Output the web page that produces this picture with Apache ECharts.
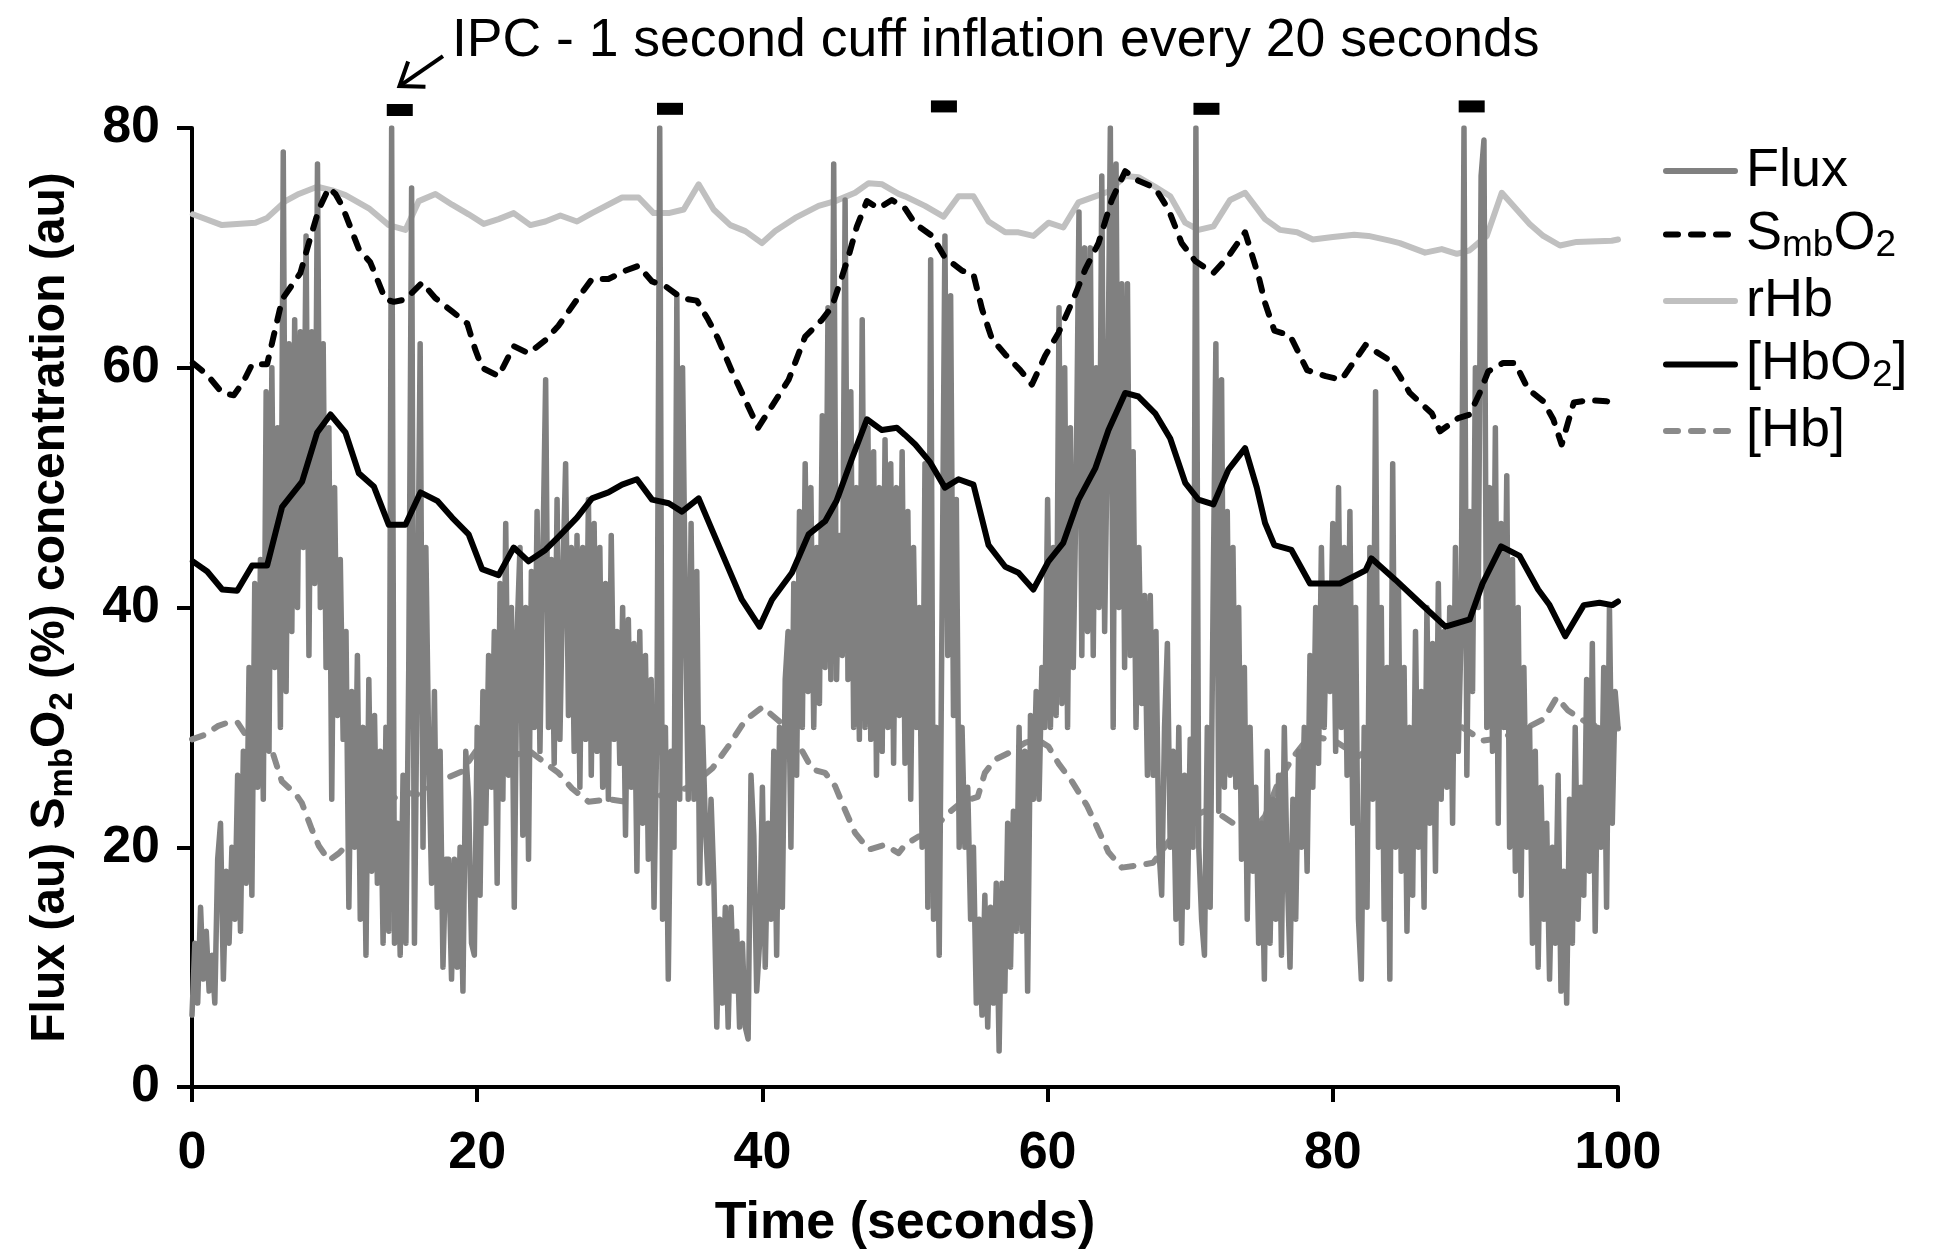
<!DOCTYPE html>
<html><head><meta charset="utf-8">
<script src="https://cdn.jsdelivr.net/npm/echarts@6/dist/echarts.min.js"></script>
<style>html,body{margin:0;padding:0;background:#fff}#c{width:1937px;height:1251px}</style>
</head><body><div id="c"></div>
<script>
// ---------- data ----------
const fluxStep = 0.2; // seconds between flux samples
const fluxValues = [
 6,12,7,15,9, 13,8,11,7,19, 22,9,18,12,20, 14,26,13,28,17, 35,16,42,25,44,
 24,58,28,60,35, 55,30,78,33,62, 38,64,40,63,45, 71,36,63,42,77, 40,62,35,55,24,
 50,31,44,29,38, 15,33,20,36,14, 30,11,34,18,31, 17,28,12,30,13, 80,12,22,11,26,
 12,35,75,12,36, 62,20,45,28,17, 33,15,28,10,19, 19,9,19,10,20, 8,28,24,12,11,
 30,16,33,22,36, 25,38,17,42,24, 47,26,40,15,38, 45,21,40,19,43, 30,48,28,44,59,
 30,44,27,49,29, 42,52,31,45,28, 46,25,45,29,49, 26,47,28,45,25, 42,24,46,29,38,
 27,40,21,39,25, 37,18,38,22,36, 19,34,15,30,80, 14,30,9,28,20, 66,24,60,40,24,
 47,24,43,17,30, 22,17,24,17,5, 14,7,15,5,15, 8,13,5,12,5, 4,26,21,8,12,
 25,10,22,14,28, 11,30,15,34,38, 20,42,26,48,30, 52,33,50,30,45, 32,56,35,65,34,
 77,34,46,36,74, 34,58,30,50,29, 64,30,55,29,53, 26,50,28,54,30, 52,27,50,31,53,
 27,48,24,45,30, 40,20,52,15,69, 14,30,11,40,71, 36,66,31,49,20, 30,20,25,14,20,
 7,14,6,16,5, 15,7,17,3,17, 8,22,10,23,13, 30,13,28,8,31, 24,33,24,35,30,
 49,30,45,31,65, 32,60,30,55,35, 50,73,36,70,38, 70,36,60,40,76, 38,55,80,30,77,
 40,67,35,67,36, 53,30,45,32,41, 26,41,26,38,20, 16,30,37,20,28, 14,30,12,26,15,
 29,20,80,20,14, 11,30,15,40,62, 23,59,25,48,26, 45,25,40,19,35, 14,30,18,25,12,
 22,9,28,12,24, 14,26,11,30,18, 10,24,14,28,20, 30,18,36,25,40, 27,45,30,42,33,
 47,28,50,30,45, 26,48,22,40,14, 9,30,15,45,24, 58,20,40,14,35, 9,52,20,42,18,
 35,13,30,16,38, 20,33,15,40,22, 37,18,42,24,38, 25,40,22,45,28, 38,80,26,48,33,
 60,40,76,79,30, 50,28,55,22,47, 30,51,20,44,18, 40,16,35,20,30, 12,28,10,25,14,
 22,9,20,12,26, 8,18,7,24,12, 30,14,25,16,34, 18,37,13,30,20, 35,15,40,22,33,
 30
];
const smbo2Points = [
 [0.06,60.4],[1.07,59.4],[2.12,57.9],[2.93,57.7],[3.63,58.9],[4.22,60.3],[5.27,60.3],[5.62,62.1],
 [6.32,65.7],[7.6,67.9],[8.19,70.4],[8.89,73.2],[9.59,75.0],[10.06,74.5],[10.53,73.5],[11.7,69.9],
 [12.5,68.8],[13.56,65.7],[14.15,65.5],[14.97,65.7],[16.14,67.1],[17.07,65.8],[18.24,64.7],[19.3,63.7],
 [19.87,61.5],[20.34,60.0],[21.5,59.3],[22.56,61.8],[23.6,61.2],[24.78,62.3],[25.7,63.5],[27.0,65.7],
 [28.05,67.4],[29.2,67.4],[30.4,68.1],[31.3,68.5],[32.26,67.2],[33.2,66.8],[34.36,65.8],[35.4,65.6],
 [36.2,64.0],[36.9,62.4],[37.9,59.6],[38.8,57.3],[39.7,55.0],[40.67,56.8],[41.84,59.0],[43.0,62.6],
 [44.18,64.0],[44.88,65.1],[45.58,67.6],[46.04,69.3],[46.63,71.8],[47.33,73.9],[48.15,73.3],[49.08,74.0],
 [50.0,73.3],[50.72,72.0],[51.9,71.0],[52.8,69.2],[54.0,68.1],[54.8,67.8],[55.4,64.9],[56.1,62.4],
 [57.03,61.1],[58.08,59.8],[58.9,58.6],[59.83,61.0],[60.76,62.9],[61.8,65.7],[62.64,68.2],[63.57,70.4],
 [64.5,74.0],[65.44,76.4],[66.37,75.6],[67.54,75.0],[68.48,73.2],[69.4,70.4],[70.35,68.9],[71.63,67.9],
 [72.68,69.3],[73.85,71.3],[74.8,67.6],[75.25,65.4],[75.9,63.1],[77.0,62.7],[78.2,59.8],[79.5,59.3],
 [80.6,59.0],[82.3,61.9],[84.0,60.6],[84.7,59.3],[85.4,57.9],[86.94,56.2],[87.52,54.7],[88.8,55.8],
 [89.6,56.1],[90.3,57.9],[90.9,59.7],[91.95,60.4],[92.78,60.4],[93.7,58.2],[94.76,57.2],[95.46,55.7],
 [96.05,53.6],[96.9,57.1],[98.0,57.3],[99.2,57.2],[100,57.0]
];
const rhbPoints = [
 [0.06,72.8],[2.1,71.9],[4.45,72.1],[5.27,72.5],[6.55,73.9],[7.49,74.5],[8.78,75.1],[9.83,74.8],
 [10.76,74.4],[12.4,73.3],[13.8,71.9],[14.97,71.5],[15.9,73.9],[17.07,74.5],[18.24,73.6],[19.4,72.8],
 [20.46,72.0],[21.5,72.4],[22.56,72.9],[23.73,71.9],[24.78,72.2],[25.83,72.7],[27.0,72.2],[28.05,72.9],
 [30.16,74.2],[31.32,74.2],[32.37,72.9],[33.43,72.9],[34.48,73.2],[35.53,75.3],[36.58,73.2],[37.75,71.9],
 [38.8,71.4],[39.97,70.4],[40.9,71.4],[42.3,72.5],[43.94,73.5],[45.1,73.9],[46.5,74.6],[47.45,75.4],
 [48.4,75.3],[49.55,74.5],[50.0,74.3],[51.4,73.5],[52.7,72.6],[53.75,74.3],[54.8,74.3],[55.86,72.2],
 [57.03,71.3],[57.96,71.3],[59.0,71.0],[60.06,72.1],[61.1,71.7],[62.17,73.8],[63.34,74.3],[64.27,74.7],
 [65.44,76.0],[66.37,75.9],[67.54,75.1],[68.6,74.3],[69.65,72.1],[70.58,71.5],[71.63,71.8],[72.8,74.0],
 [73.85,74.6],[75.25,72.4],[76.3,71.5],[77.5,71.3],[78.6,70.7],[80.0,70.9],[81.5,71.1],[82.5,71.0],
 [84.0,70.6],[84.7,70.4],[86.47,69.6],[87.64,69.9],[88.7,69.5],[89.6,69.8],[90.8,71.0],[91.85,74.6],
 [93.8,72.0],[94.76,71.0],[95.93,70.2],[97.1,70.5],[99.56,70.6],[100,70.7]
];
const hbo2Points = [
 [0.06,43.85],[1.07,43.0],[2.12,41.5],[3.17,41.4],[4.22,43.5],[5.27,43.5],[6.32,48.4],[7.72,50.5],
 [8.78,54.6],[9.71,56.1],[10.76,54.6],[11.7,51.2],[12.75,50.1],[13.8,46.9],[14.97,46.9],[16.02,49.6],
 [17.2,48.9],[18.24,47.5],[19.4,46.1],[20.34,43.2],[21.5,42.7],[22.56,45.0],[23.6,43.85],[24.78,44.8],
 [25.7,45.9],[27.0,47.5],[28.05,49.1],[29.2,49.6],[30.16,50.25],[31.2,50.7],[32.26,49.0],[33.43,48.7],
 [34.36,48.0],[35.53,49.1],[36.46,46.5],[37.5,43.6],[38.56,40.65],[39.8,38.4],[40.67,40.65],[42.07,42.9],
 [43.24,46.1],[44.4,47.2],[45.2,48.9],[46.3,52.5],[47.33,55.7],[48.38,54.8],[49.43,55.0],[50.0,54.4],
 [50.72,53.6],[51.77,52.1],[52.8,50.0],[53.75,50.7],[54.8,50.25],[55.86,45.2],[57.03,43.4],[57.96,42.9],
 [59.0,41.5],[60.06,43.85],[61.1,45.4],[62.17,49.0],[63.34,51.6],[64.27,54.8],[65.44,57.9],[66.37,57.6],
 [67.54,56.2],[68.6,54.1],[69.65,50.4],[70.58,49.0],[71.63,48.6],[72.68,51.5],[73.85,53.3],[74.67,50.0],
 [75.25,47.05],[75.9,45.2],[77.1,44.8],[78.4,42.0],[80.5,42.0],[82.3,43.1],[82.7,44.1],[84.4,42.3],
 [86.1,40.4],[87.9,38.4],[89.6,39.0],[90.5,42.0],[91.8,45.1],[93.1,44.3],[94.4,41.5],[95.2,40.2],
 [96.3,37.6],[97.6,40.2],[98.7,40.4],[99.6,40.2],[100,40.5]
];
const hbPoints = [
 [0.0,29.0],[0.95,29.4],[1.8,30.1],[2.5,30.4],[3.2,30.4],[3.75,29.4],[4.45,28.8],[5.6,28.1],
 [6.3,25.5],[7.3,24.4],[7.7,23.7],[8.4,21.5],[8.9,20.1],[9.6,18.9],[10.3,19.5],[10.8,20.1],
 [12.0,21.5],[13.3,23.0],[14.6,24.6],[15.9,24.4],[17.3,25.5],[18.9,26.3],[20.3,28.7],[21.5,28.4],
 [22.6,27.7],[23.7,28.0],[24.8,27.0],[25.7,26.2],[26.65,24.9],[27.8,23.8],[29.2,24.0],[30.4,23.8],
 [31.6,23.7],[32.8,24.3],[33.6,24.6],[34.6,24.9],[35.5,25.6],[36.5,26.6],[37.6,28.4],[38.8,30.6],
 [40.0,31.7],[41.1,30.6],[42.1,29.5],[43.5,26.5],[44.4,26.2],[45.1,25.1],[45.8,23.1],[46.5,21.2],
 [47.45,19.8],[48.6,20.2],[49.55,19.5],[50.0,20.2],[50.95,20.9],[51.5,21.0],[53.2,23.0],[54.0,23.8],
 [55.1,24.2],[55.6,26.2],[56.3,27.3],[57.5,28.0],[58.4,28.7],[59.25,29.0],[60.06,28.4],[60.76,27.0],
 [61.7,25.5],[62.75,23.5],[63.46,21.7],[64.26,19.6],[65.2,18.3],[66.37,18.5],[67.4,18.7],[68.5,20.5],
 [70.0,22.5],[71.0,23.0],[72.0,22.8],[73.4,21.7],[74.3,21.2],[75.25,22.6],[76.2,25.5],[77.2,27.5],
 [78.4,29.3],[80.1,28.9],[81.8,27.6],[83.0,28.5],[84.5,29.5],[86.1,29.9],[87.4,31.4],[89.2,29.9],
 [90.5,28.9],[91.8,29.1],[93.5,29.9],[94.8,30.7],[95.7,32.5],[96.5,31.4],[97.8,30.4],[99.1,29.9],[100,29.9]
];
const ipcTimes = [14.57, 33.52, 52.73, 71.14, 89.74];
const ipcLevels = [81.5, 81.6, 81.8, 81.6, 81.8];
const arrowTail = [17.6, 86.0];
const arrowTip = [14.55, 83.5];
const xAxisRange = [0, 100, 20];
const yAxisRange = [0, 80, 20];
const legendNames = ['Flux', 'SmbO2', 'rHb', '[HbO2]', '[Hb]'];
const titleText = 'IPC - 1 second cuff inflation every 20 seconds';

// ---------- chart ----------
const FONT = '"Liberation Sans", Arial, Helvetica, sans-serif';
const fluxData = fluxValues.map((v, i) => [Math.round(i * fluxStep * 10) / 10, v]);
const ipcData = ipcTimes.map((t, i) => [t, ipcLevels[i]]);
const DASH = [12, 13];

const legendRich = {
  n: {fontSize: 54, lineHeight: 60, fontFamily: FONT, color: '#000'},
  s: {fontSize: 37, lineHeight: 60, fontFamily: FONT, color: '#000', verticalAlign: 'bottom'}
};
const legendLabels = {
  'Flux': '{n|Flux}',
  'SmbO2': '{n|S}{s|mb}{n|O}{s|2}',
  'rHb': '{n|rHb}',
  '[HbO2]': '{n|[HbO}{s|2}{n|]}',
  '[Hb]': '{n|[Hb]}'
};

function lineSeries(name, data, color, type, width, z) {
  return {
    name, type: 'line', data, z,
    showSymbol: false, symbol: 'none', animation: false, silent: true,
    emphasis: {disabled: true},
    lineStyle: {color, width, type, cap: 'round', join: 'round'},
    itemStyle: {color}
  };
}

const chart = echarts.init(document.getElementById('c'), null, {renderer: 'canvas'});
const option = {
  backgroundColor: '#fff',
  animation: false,
  title: {
    text: titleText, left: 447, top: 9,
    textStyle: {fontFamily: FONT, fontSize: 53.5, fontWeight: 'normal', color: '#000'}
  },
  grid: {left: 192, right: 319, top: 128, bottom: 164, containLabel: false, outerBoundsMode: 'none'},
  legend: {
    data: legendNames, orient: 'vertical', left: 1658, top: 139,
    itemWidth: 69, itemHeight: 14, itemGap: 9.5,
    selectedMode: false,
    itemStyle: {opacity: 0},
    lineStyle: {width: 6},
    formatter: name => legendLabels[name],
    textStyle: {rich: legendRich, fontFamily: FONT, fontSize: 54, color: '#000', padding: [0, 0, 0, 6]}
  },
  xAxis: {
    type: 'value', min: xAxisRange[0], max: xAxisRange[1], interval: xAxisRange[2],
    name: 'Time (seconds)', nameLocation: 'middle', nameGap: 111,
    nameTextStyle: {fontFamily: FONT, fontSize: 52, fontWeight: 'bold', color: '#000'},
    axisLine: {show: true, onZero: false, lineStyle: {color: '#000', width: 4}},
    axisTick: {show: true, inside: false, length: 15, lineStyle: {color: '#000', width: 4}},
    axisLabel: {show: true, margin: 41, fontFamily: FONT, fontSize: 52, fontWeight: 'bold', color: '#000'},
    splitLine: {show: false}
  },
  yAxis: {
    type: 'value', min: yAxisRange[0], max: yAxisRange[1], interval: yAxisRange[2],
    name: '{b|Flux (au) S}{s|mb}{b|O}{s|2}{b| (%) concentration (au)}',
    nameLocation: 'middle', nameGap: 113, nameRotate: 90,
    nameTextStyle: {
      fontFamily: FONT, fontSize: 48, fontWeight: 'bold', color: '#000',
      rich: {
        b: {fontFamily: FONT, fontSize: 48, fontWeight: 'bold', color: '#000', lineHeight: 56},
        s: {fontFamily: FONT, fontSize: 33, fontWeight: 'bold', color: '#000', lineHeight: 56, verticalAlign: 'bottom'}
      }
    },
    axisLine: {show: true, onZero: false, lineStyle: {color: '#000', width: 4}},
    axisTick: {show: true, inside: false, length: 15, lineStyle: {color: '#000', width: 4}},
    axisLabel: {show: true, margin: 32, fontFamily: FONT, fontSize: 52, fontWeight: 'bold', color: '#000'},
    splitLine: {show: false}
  },
  series: [
    lineSeries('[Hb]', hbPoints, '#8a8a8a', DASH, 6, 1),
    lineSeries('rHb', rhbPoints, '#c0c0c0', 'solid', 6, 2),
    lineSeries('Flux', fluxData, '#808080', 'solid', 5.5, 3),
    lineSeries('SmbO2', smbo2Points, '#000000', DASH, 6, 4),
    lineSeries('[HbO2]', hbo2Points, '#000000', 'solid', 6, 5),
    {
      name: 'IPC', type: 'scatter', data: ipcData, symbol: 'rect', symbolSize: [26, 12],
      clip: false, silent: true, animation: false, z: 6,
      itemStyle: {color: '#000', opacity: 1}
    }
  ]
};
chart.setOption(option);

// annotation arrow (positions given in data units, converted by the axes)
const tip = chart.convertToPixel({gridIndex: 0}, arrowTip);
const tail = chart.convertToPixel({gridIndex: 0}, arrowTail);
const ang = Math.atan2(tail[1] - tip[1], tail[0] - tip[0]);
const headLen = 26, spread = 36 * Math.PI / 180;
const h1 = [tip[0] + headLen * Math.cos(ang + spread), tip[1] + headLen * Math.sin(ang + spread)];
const h2 = [tip[0] + headLen * Math.cos(ang - spread), tip[1] + headLen * Math.sin(ang - spread)];
chart.setOption({
  graphic: [
    {type: 'polyline', silent: true, z: 10, shape: {points: [tail, tip]}, style: {stroke: '#000', lineWidth: 4, fill: null}},
    {type: 'polyline', silent: true, z: 10, shape: {points: [h1, tip, h2]}, style: {stroke: '#000', lineWidth: 4, fill: null, lineJoin: 'miter'}}
  ]
});
</script>
</body></html>
